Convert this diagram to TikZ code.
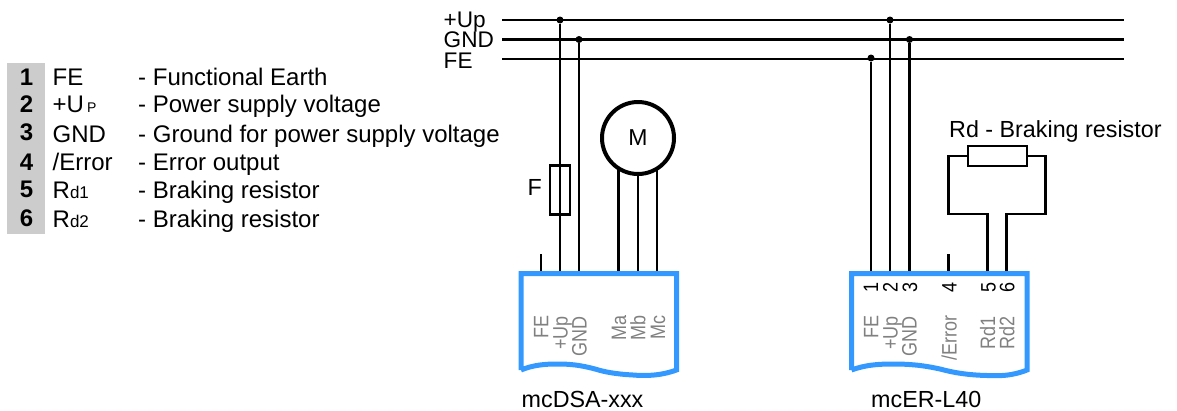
\documentclass[tikz,border=0pt]{standalone}
\usepackage{fontspec}
\setmainfont{Liberation Sans}
\newcommand{\szmain}{\fontsize{23.3}{27}\selectfont}
\newcommand{\szbus}{\fontsize{22.6}{26}\selectfont}
\newcommand{\szleg}{\fontsize{24}{28}\selectfont}
\newcommand{\szsubd}{\fontsize{17}{20}\selectfont}
\newcommand{\szsubp}{\fontsize{14}{17}\selectfont}
\newcommand{\szpin}{\fontsize{18}{21}\selectfont}
\newcommand{\pintext}[1]{\scalebox{1}[1.16]{#1}}
\definecolor{boxblue}{RGB}{51,153,255}
\definecolor{labgray}{RGB}{128,128,128}
\definecolor{bandgray}{RGB}{204,204,204}
\tikzset{
  wire/.style={line width=2.2pt,black},
  dev/.style={line width=5pt,boxblue,line join=miter},
  dot/.style={circle,fill=black,inner sep=0pt,minimum size=7pt},
  txt/.style={inner sep=0pt,anchor=base west,font=\szmain},
  bus/.style={inner sep=0pt,anchor=base west,font=\szbus},
  leg/.style={inner sep=0pt,anchor=base west,font=\szleg},
  num/.style={inner sep=0pt,anchor=base,font=\szleg\bfseries},
  plab/.style={inner sep=0pt,rotate=90,anchor=base east,text=labgray,font=\szpin},
  pnum/.style={inner sep=0pt,rotate=90,anchor=base,text=black,font=\szpin},
  part/.style={draw=black,line width=2.2pt,fill=none,inner sep=0pt}
}
\begin{document}
\begin{tikzpicture}[x=1pt,y=-1pt]
\useasboundingbox (0,0) rectangle (1177,410);
% legend band
\fill[bandgray] (7,63) rectangle (45,234);
\node[num] (n1) at (26.5,85) {1};
\node[num] (n2) at (26.5,112.7) {2};
\node[num] (n3) at (26.5,140.7) {3};
\node[num] (n4) at (26.5,170) {4};
\node[num] (n5) at (26.5,197) {5};
\node[num] (n6) at (26.5,226.7) {6};
\node[leg] (s1) at (52.5,85) {FE};
\node[leg] (s2) at (52.5,112) {+U\hspace{3pt}{\szsubp P}};
\node[leg] (s3) at (52.5,142) {GND};
\node[leg] (s4) at (52.5,170.5) {/Error};
\node[leg] (s5) at (52.5,198) {R{\szsubd d1}};
\node[leg] (s6) at (52.5,227.5) {R{\szsubd d2}};
\node[leg] (d1) at (138,85) {- Functional Earth};
\node[leg] (d2) at (138,112) {- Power supply voltage};
\node[leg] (d3) at (138,142) {- Ground for power supply voltage};
\node[leg] (d4) at (138,170.5) {- Error output};
\node[leg] (d5) at (138,198) {- Braking resistor};
\node[leg] (d6) at (138,227.5) {- Braking resistor};
% bus
\node[bus] (lup) at (443.5,27) {+Up};
\node[bus] (lgnd) at (443.5,47) {GND};
\node[bus] (lfe) at (443.5,68) {FE};
\coordinate (upL) at (502,20); \coordinate (upR) at (1124,20);
\coordinate (gndL) at (502,39.5); \coordinate (gndR) at (1124,39.5);
\coordinate (feL) at (502,59); \coordinate (feR) at (1124,59);
\draw[wire] (upL) -- (upR);
\draw[wire] (gndL) -- (gndR);
\draw[wire] (feL) -- (feR);
\node[dot] (j1) at (560,20) {};
\node[dot] (j2) at (579,39.5) {};
\node[dot] (j3) at (890,20) {};
\node[dot] (j4) at (909.5,39.5) {};
\node[dot] (j5) at (871,58) {};
% pins device 1
\coordinate (a1) at (541,272); \coordinate (a1t) at (541,254);
\coordinate (a2) at (560,272);
\coordinate (a3) at (579,272);
\coordinate (a4) at (618.5,272);
\coordinate (a5) at (638,272);
\coordinate (a6) at (657,272);
\coordinate (m4) at (618.5,165);
\coordinate (m6) at (657,165);
% pins device 2
\coordinate (b1) at (871,272);
\coordinate (b2) at (890,272);
\coordinate (b3) at (909.5,272);
\coordinate (b4) at (948.5,272); \coordinate (b4t) at (948.5,254);
\coordinate (b5) at (987.5,272);
\coordinate (b6) at (1006.5,272);
\draw[wire] (j1) -- (a2);
\draw[wire] (j2) -- (a3);
\draw[wire] (a1t) -- (a1);
\draw[wire] (m4) -- (a4);
\draw[wire] (m6) -- (a6);
\draw[wire] (j3) -- (b2);
\draw[wire] (j4) -- (b3);
\draw[wire] (j5) -- (b1);
\draw[wire] (b4t) -- (b4);
% fuse
\node[part,minimum width=20pt,minimum height=49pt] (fuse) at (560,190) {};
\node[txt] (flab) at (527.5,195) {F};
% motor
\node[circle,draw=black,line width=4pt,fill=white,minimum size=72pt,inner sep=0pt,font=\fontsize{23}{26}\selectfont] (motor) at (638,138) {M};
\draw[wire] (motor.south) -- (a5);
% resistor
\node[part,minimum width=59pt,minimum height=20pt] (rd) at (997.5,156) {};
\node[txt] (rdlab) at (949,137) {Rd - Braking resistor};
\draw[wire] (b5) -- (987.5,214) -- (948.5,214) -- (948.5,156) -- (rd.west);
\draw[wire] (b6) -- (1006.5,214) -- (1045.5,214) -- (1045.5,156) -- (rd.east);
% device outlines
\draw[dev] (521,370) -- (521,273.5) -- (676.5,273.5) -- (676.5,370)
  .. controls (660,376) and (645,376) .. (633,375)
  .. controls (615,374) and (605,372) .. (595,369)
  .. controls (580,365) and (570,364) .. (557,364)
  .. controls (545,364) and (533,365) .. (521,370);
\draw[dev] (851.5,370) -- (851.5,273.5) -- (1027,273.5) -- (1027,370)
  .. controls (1012,376) and (1000,376) .. (987,375.5)
  .. controls (968,375) and (955,373) .. (940,369)
  .. controls (922,365) and (908,364) .. (893,364)
  .. controls (878,364) and (865,365) .. (851.5,370);
% device labels
\node[plab] (pa1) at (548.3,315) {\pintext{FE}};
\node[plab] (pa2) at (567.7,316) {\pintext{+Up}};
\node[plab] (pa3) at (586.7,316) {\pintext{GND}};
\node[plab] (pa4) at (626,315) {\pintext{Ma}};
\node[plab] (pa5) at (645.3,315) {\pintext{Mb}};
\node[plab] (pa6) at (665,315) {\pintext{Mc}};
\node[plab] (pb1) at (878.3,315) {\pintext{FE}};
\node[plab] (pb2) at (897.7,316) {\pintext{+Up}};
\node[plab] (pb3) at (916.7,316) {\pintext{GND}};
\node[plab] (pb4) at (956.7,315) {\pintext{/Error}};
\node[plab] (pb5) at (995,316) {\pintext{Rd1}};
\node[plab] (pb6) at (1014.3,316) {\pintext{Rd2}};
\node[pnum] (nb1) at (878,287) {\pintext{1}};
\node[pnum] (nb2) at (897.7,287) {\pintext{2}};
\node[pnum] (nb3) at (917,287) {\pintext{3}};
\node[pnum] (nb4) at (956.7,287) {\pintext{4}};
\node[pnum] (nb5) at (995.7,287) {\pintext{5}};
\node[pnum] (nb6) at (1014.3,287) {\pintext{6}};
\node[txt] (na) at (521.5,407) {mcDSA-xxx};
\node[txt] (nb) at (871,407) {mcER-L40};
\end{tikzpicture}
\end{document}
